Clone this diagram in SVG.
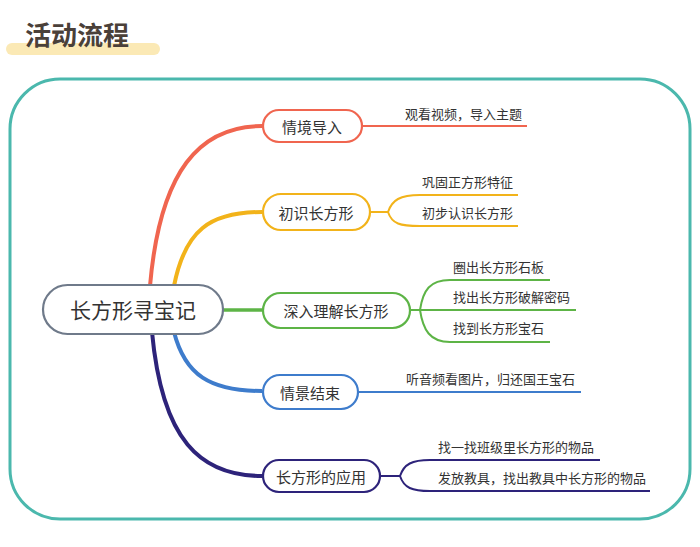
<svg xmlns="http://www.w3.org/2000/svg" width="700" height="547" viewBox="0 0 700 547">
<style>
text{font-family:"Noto Sans CJK SC","Noto Sans",sans-serif;fill:#333}
.n{fill:#fff;stroke-width:2.2}
.t{font-size:15px;text-anchor:middle;dominant-baseline:central}
.l{font-size:13px}
.c path{fill:none}
</style>
<rect width="700" height="547" fill="#fff"/>
<rect x="6" y="43" width="154" height="12" rx="6" fill="#fbe9b5"/>
<text x="25" y="45" style="font-size:26px;font-weight:bold;fill:#4a4039">活动流程</text>
<rect x="10" y="79" width="680" height="440" rx="50" fill="none" stroke="#4bb8ad" stroke-width="3"/>
<g class="c">
<path d="M150 286 C160 170 200 126 262 126" stroke="#f0654f" stroke-width="4"/>
<path d="M174 286 C185 230 210 212 262 212" stroke="#f2b31a" stroke-width="4"/>
<path d="M223 310 H262" stroke="#5db446" stroke-width="3.5"/>
<path d="M174 332 C185 375 210 391 262 391" stroke="#3e7ccc" stroke-width="4"/>
<path d="M152 332 C162 440 200 476 262 476" stroke="#2d237a" stroke-width="4"/>
<path d="M362 126 H527" stroke="#f0654f" stroke-width="2"/>
<path d="M370 212 H388 M388 212 C392 200 400 195 420 195 H518 M388 212 C392 224 400 226 420 226 H518" stroke="#f2b31a" stroke-width="2"/>
<path d="M410 310 H576 M420 310 C423 290 430 280 450 280 H550 M420 310 C423 330 430 342 450 342 H550" stroke="#5db446" stroke-width="2"/>
<path d="M358 392 H581" stroke="#3e7ccc" stroke-width="2"/>
<path d="M380 476 H400 M400 476 C404 464 412 460 430 460 H600 M400 476 C404 488 412 491 430 491 H650" stroke="#2d237a" stroke-width="2"/>
</g>
<g id="root"><rect class="n" x="43" y="285" width="180" height="49" rx="24.5" stroke="#6f7a8a"/><text class="t" x="133" y="309" style="font-size:21px">长方形寻宝记</text></g>
<g id="n1"><rect class="n" x="263" y="110" width="99" height="32" rx="16" stroke="#f0654f"/><text class="t" x="312" y="126">情境导入</text></g>
<g id="n2"><rect class="n" x="263" y="194" width="107" height="36" rx="18" stroke="#f2b31a"/><text class="t" x="316" y="212">初识长方形</text></g>
<g id="n3"><rect class="n" x="263" y="293" width="147" height="35" rx="17.5" stroke="#5db446"/><text class="t" x="336" y="310">深入理解长方形</text></g>
<g id="n4"><rect class="n" x="263" y="375" width="95" height="34" rx="17" stroke="#3e7ccc"/><text class="t" x="310" y="392">情景结束</text></g>
<g id="n5"><rect class="n" x="263" y="460" width="117" height="32" rx="16" stroke="#2d237a"/><text class="t" x="321" y="476">长方形的应用</text></g>
<g id="leaves">
<text class="l" x="405" y="119">观看视频，导入主题</text>
<text class="l" x="422" y="187">巩固正方形特征</text>
<text class="l" x="422" y="218">初步认识长方形</text>
<text class="l" x="453" y="272">圈出长方形石板</text>
<text class="l" x="453" y="302">找出长方形破解密码</text>
<text class="l" x="453" y="333">找到长方形宝石</text>
<text class="l" x="406" y="384">听音频看图片，归还国王宝石</text>
<text class="l" x="438" y="452">找一找班级里长方形的物品</text>
<text class="l" x="438" y="483">发放教具，找出教具中长方形的物品</text>
</g>
</svg>
